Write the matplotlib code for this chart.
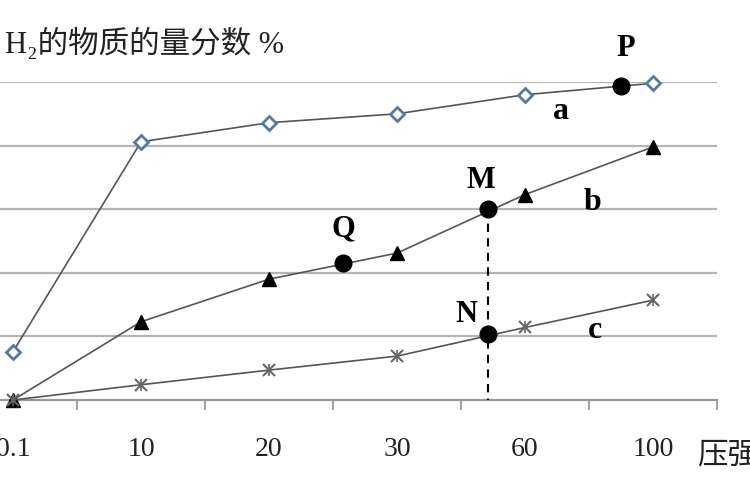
import matplotlib
matplotlib.use('Agg')
import matplotlib.pyplot as plt

# font list: serif for latin/digits, CJK fallback for the chinese labels
plt.rcParams['font.family'] = ['Liberation Serif', 'DejaVu Serif', 'Noto Sans CJK SC']

# pressure categories (x axis)
pressure_labels = ['0.1', '10', '20', '30', '60', '100']

# H2 mole fraction curves (gridline units)
a_vals = [0.76, 4.06, 4.36, 4.50, 4.80, 4.98]
b_vals = [0.00, 1.23, 1.90, 2.31, 3.23, 3.98]
c_vals = [0.00, 0.24, 0.47, 0.69, 1.14, 1.57]

# marked points on the curves
point_names = ['P', 'Q', 'M', 'N']
point_x = [4.75, 2.58, 3.71, 3.71]
point_y = [4.94, 2.16, 3.00, 1.03]

xpos = list(range(len(pressure_labels)))

fig = plt.figure(figsize=(7.5, 5), dpi=100)
ax = fig.add_axes([0, 0.2, 717 / 750, 318 / 500])
ax.set_xlim(-13 / 127.8, 5.5)
ax.set_ylim(0, 5)

# horizontal gridlines
ax.set_yticks([1, 2, 3, 4, 5])
ax.yaxis.grid(True, color='#b4b4b4', linewidth=1.6)
ax.set_axisbelow(True)
ax.tick_params(axis='y', left=False, labelleft=False)
for side in ['top', 'right', 'left']:
    ax.spines[side].set_visible(False)
ax.spines['bottom'].set_color('#9a9a9a')
ax.spines['bottom'].set_linewidth(1.6)

# tick marks between categories, labels at category centres
ax.set_xticks([i + 0.5 for i in xpos])
ax.set_xticklabels([])
ax.tick_params(axis='x', which='major', length=7, width=1.3, color='#9a9a9a')
ax.set_xticks(xpos, minor=True)
ax.set_xticklabels(pressure_labels, minor=True, fontsize=20, color='#222222')
ax.tick_params(axis='x', which='minor', length=0, pad=27)

line_col = '#555555'
ax.plot(xpos, a_vals, color=line_col, lw=1.2, marker='D', ms=7.5,
        mfc='white', mec='#5a7898', mew=2, clip_on=False, zorder=3)
ax.plot(xpos, b_vals, color=line_col, lw=1.2, marker='^', ms=10,
        mfc='black', mec='black', clip_on=False, zorder=3)
ax.plot(xpos, c_vals, color=line_col, lw=1.2, marker='x', ms=9,
        mew=1.5, mec='#666666', clip_on=False, zorder=3)
ax.plot(xpos, c_vals, ls='none', marker='|', ms=9, mew=1.2,
        mec='#666666', clip_on=False, zorder=3)

# dashed drop line from M through N down to the axis
ax.plot([point_x[2], point_x[2]], [point_y[2], 0], color='black',
        lw=1.5, ls=(0, (4, 3)), zorder=4)

ax.plot(point_x, point_y, ls='none', marker='o', ms=12, color='black',
        clip_on=False, zorder=5)

label_offsets = {'P': (5, 37), 'Q': (0, 34), 'M': (-7, 29), 'N': (-22, 20)}
for name, px, py in zip(point_names, point_x, point_y):
    ax.annotate(name, (px, py), xytext=label_offsets[name], textcoords='offset pixels',
                ha='center', va='center', fontsize=22, fontweight='bold',
                annotation_clip=False)

# series names
ax.text(4.28, 4.53, 'a', fontsize=23, fontweight='bold', ha='center', va='center')
ax.text(4.53, 3.11, 'b', fontsize=23, fontweight='bold', ha='center', va='center')
ax.text(4.55, 1.10, 'c', fontsize=23, fontweight='bold', ha='center', va='center')

# axis titles
fig.text(5 / 750, 1 - 44 / 500, 'H₂的物质的量分数 %', fontsize=22, va='center', ha='left',
         color='#222222')
fig.text(697 / 750, 1 - 456 / 500, '压强', fontsize=22, va='center', ha='left',
         color='#222222')

fig.savefig('out.png', dpi=100)
